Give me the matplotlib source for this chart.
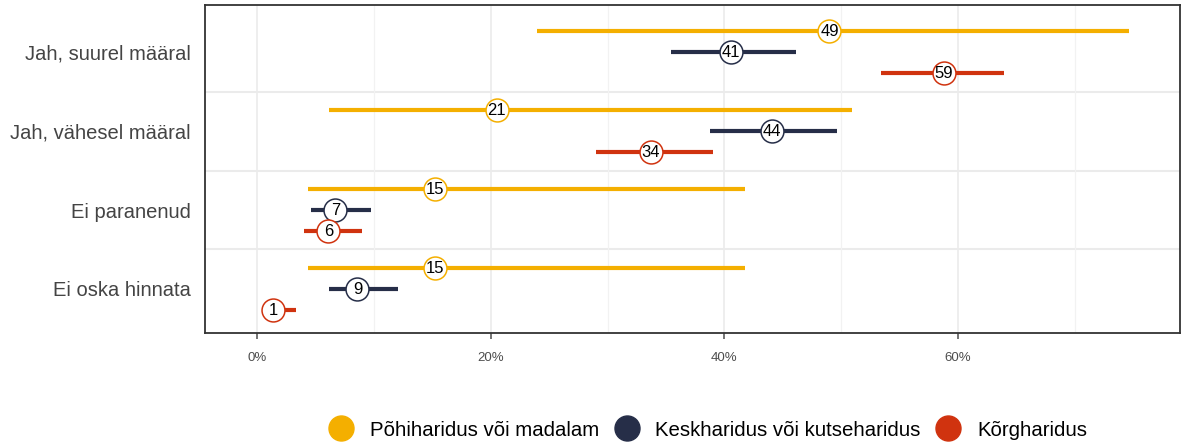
import matplotlib
matplotlib.use("Agg")
import matplotlib.pyplot as plt
from matplotlib.lines import Line2D
from matplotlib.ticker import FuncFormatter, MultipleLocator

plt.rcParams['font.family'] = ['Liberation Sans', 'DejaVu Sans']

categories = ["Jah, suurel määral", "Jah, vähesel määral", "Ei paranenud", "Ei oska hinnata"]
series = ["Põhiharidus või madalam", "Keskharidus või kutseharidus", "Kõrgharidus"]
colors = ["#F4AF00", "#262E48", "#D0330F"]

values = {
    "Põhiharidus või madalam":      [49.0, 20.5, 15.2, 15.2],
    "Keskharidus või kutseharidus": [40.6, 44.1, 6.7, 8.6],
    "Kõrgharidus":                  [58.8, 33.7, 6.1, 1.4],
}
low = {
    "Põhiharidus või madalam":      [24.0, 6.2, 4.4, 4.4],
    "Keskharidus või kutseharidus": [35.4, 38.8, 4.6, 6.2],
    "Kõrgharidus":                  [53.4, 29.0, 4.0, 0.6],
}
high = {
    "Põhiharidus või madalam":      [74.6, 50.9, 41.8, 41.8],
    "Keskharidus või kutseharidus": [46.1, 49.6, 9.8, 12.1],
    "Kõrgharidus":                  [63.9, 39.0, 9.0, 3.3],
}
labels = {
    "Põhiharidus või madalam":      ["49", "21", "15", "15"],
    "Keskharidus või kutseharidus": ["41", "44", "7", "9"],
    "Kõrgharidus":                  ["59", "34", "6", "1"],
}

fig = plt.figure(figsize=(11.87, 4.44), dpi=100)
ax = fig.add_axes([205/1187, 1-333/444, (1180-205)/1187, (333-5)/444])

offsets = [-0.266, 0.0, 0.266]
for s, c, off in zip(series, colors, offsets):
    for i in range(len(categories)):
        y = i + off
        ax.plot([low[s][i], high[s][i]], [y, y], color=c, lw=3.0, solid_capstyle='butt', zorder=3)
        ax.plot(values[s][i], y, 'o', ms=16.5, mfc='white', mec=c, mew=1.1, zorder=4)
        ax.text(values[s][i], y + 0.01, labels[s][i], ha='center', va='center', fontsize=12,
                color='black', zorder=5)

ax.set_xlim(-4.45, 79.0)
ax.set_ylim(len(categories) - 1 + 0.557, -0.595)
ax.set_yticks(range(len(categories)))
ax.set_yticklabels(categories, fontsize=14.5, color='#444444')
ax.xaxis.set_major_locator(MultipleLocator(20))
ax.xaxis.set_minor_locator(MultipleLocator(10))
ax.xaxis.set_major_formatter(FuncFormatter(lambda v, p: f"{int(v)}%"))
ax.tick_params(axis='x', labelsize=9.5, colors='#4D4D4D', length=4, width=1.1, pad=10)
ax.tick_params(axis='x', which='minor', length=0)
ax.tick_params(axis='y', length=0, pad=10)

ax.grid(True, which='major', axis='x', color='#EBEBEB', lw=1.2, zorder=0)
ax.grid(True, which='minor', axis='x', color='#F2F2F2', lw=0.9, zorder=0)
for b in [0.5, 1.5, 2.5]:
    ax.axhline(b, color='#EBEBEB', lw=1.5, zorder=0)
for sp in ax.spines.values():
    sp.set_color('#333333')
    sp.set_linewidth(1.3)

handles = [Line2D([], [], marker='o', ls='', ms=18, mfc=c, mec=c) for c in colors]
fig.legend(handles, series, loc='center', bbox_to_anchor=(708/1187, 1-430/444), ncol=3,
           frameon=False, fontsize=14.7, handlelength=1.2, handletextpad=0.8,
           columnspacing=0.75, borderpad=0, borderaxespad=0)

fig.savefig("out.png", dpi=100)
